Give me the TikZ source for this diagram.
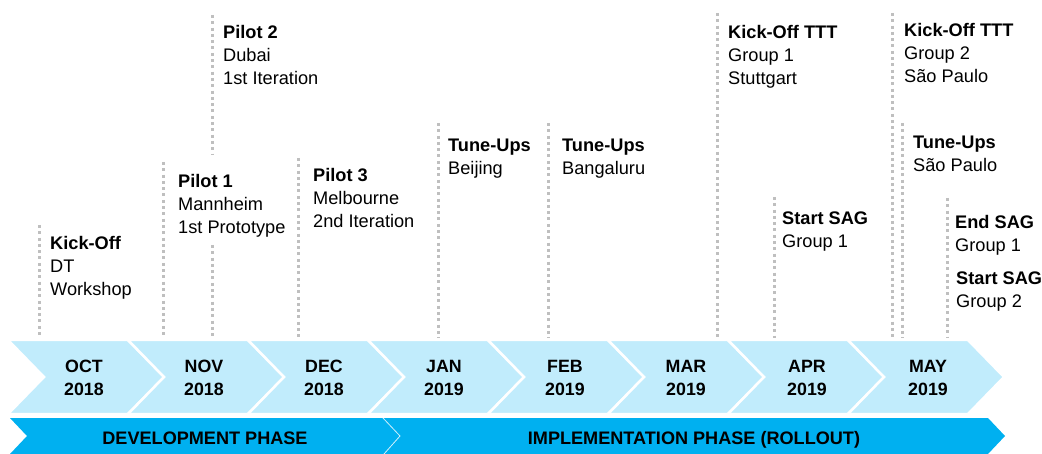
\documentclass[tikz,border=0pt]{standalone}
\usepackage{fontspec}
\setmainfont{Liberation Sans}
\definecolor{lightband}{HTML}{C1ECFC}
\definecolor{darkband}{HTML}{00B0F0}
\definecolor{dotgray}{HTML}{BFBFBF}
\tikzset{
  month/.style={align=center, inner sep=0pt, font=\fontsize{17.8}{23}\selectfont\bfseries},
  evt/.style={align=left, anchor=north west, inner sep=0pt, font=\fontsize{18.2}{23}\selectfont},
  phase/.style={anchor=base, inner sep=0pt, font=\fontsize{18.1}{23}\selectfont\bfseries},
  dots/.style={draw=dotgray, line width=3pt, dash pattern=on 3pt off 3.3pt},
  chev/.style={fill=lightband, draw=white, line width=2.5pt, line join=miter},
}
\begin{document}
\begin{tikzpicture}[x=1pt,y=-1pt]
\useasboundingbox (0,0) rectangle (1042,454);
% chevron band
\foreach \k in {0,...,7}{
  \pgfmathsetmacro{\a}{8+120*\k}
  \path[chev] (\a,340) -- ({\a+120},340) -- ({\a+156},377) -- ({\a+120},414) -- (\a,414) -- ({\a+36},377) -- cycle;
}
% month labels
\node[month] (oct) at (84,378) {OCT\\2018};
\node[month] (nov) at (204,378) {NOV\\2018};
\node[month] (dec) at (324,378) {DEC\\2018};
\node[month] (jan) at (444,378) {JAN\\2019};
\node[month] (feb) at (565,378) {FEB\\2019};
\node[month] (mar) at (686,378) {MAR\\2019};
\node[month] (apr) at (807,378) {APR\\2019};
\node[month] (may) at (928,378) {MAY\\2019};
% phase band
\fill[darkband] (10,418) -- (988,418) -- (1005,436) -- (988,454) -- (10,454) -- (27,436) -- cycle;
\draw[white, opacity=0.8, line width=0.8pt] (383,418) -- (400,436) -- (384,454);
\node[phase] (dev) at (205,444) {DEVELOPMENT PHASE};
\node[phase] (impl) at (694,444) {IMPLEMENTATION PHASE (ROLLOUT)};
% dotted lines
\coordinate (t1) at (39,225);  \coordinate (b1) at (39,338);
\coordinate (t2) at (163,162); \coordinate (b2) at (163,338);
\coordinate (t3) at (212,15);  \coordinate (m3) at (212,155);
\coordinate (n3) at (212,245); \coordinate (b3) at (212,338);
\coordinate (t4) at (298,158); \coordinate (b4) at (298,340);
\coordinate (t5) at (438,123); \coordinate (b5) at (438,338);
\coordinate (t6) at (548,123); \coordinate (b6) at (548,338);
\coordinate (t7) at (717,13);  \coordinate (b7) at (717,338);
\coordinate (t8) at (774,197); \coordinate (b8) at (774,338);
\coordinate (t9) at (892,13);  \coordinate (b9) at (892,338);
\coordinate (t10) at (902,123); \coordinate (b10) at (902,338);
\coordinate (t11) at (947,198); \coordinate (b11) at (947,338);
\foreach \t/\b in {t1/b1,t2/b2,t3/m3,n3/b3,t4/b4,t5/b5,t6/b6,t7/b7,t8/b8,t9/b9,t10/b10,t11/b11}
  \draw[dots] (\t) -- (\b);
% event texts
\node[evt] (e1) at (50,236.5) {\textbf{Kick-Off}\\DT\\Workshop};
\node[evt] (e2) at (178,174.5) {\textbf{Pilot 1}\\Mannheim\\1st Prototype};
\node[evt] (e3) at (223,25.5) {\textbf{Pilot 2}\\Dubai\\1st Iteration};
\node[evt] (e4) at (313,168.5) {\textbf{Pilot 3}\\Melbourne\\2nd Iteration};
\node[evt] (e5) at (448,138.5) {\textbf{Tune-Ups}\\Beijing};
\node[evt] (e6) at (562,138.5) {\textbf{Tune-Ups}\\Bangaluru};
\node[evt] (e7) at (728,25.5) {\textbf{Kick-Off TTT}\\Group 1\\Stuttgart};
\node[evt] (e8) at (782,211.5) {\textbf{Start SAG}\\Group 1};
\node[evt] (e9) at (904,23.5) {\textbf{Kick-Off TTT}\\Group 2\\São Paulo};
\node[evt] (e10) at (913,135.5) {\textbf{Tune-Ups}\\São Paulo};
\node[evt] (e11) at (955,215.5) {\textbf{End SAG}\\Group 1};
\node[evt] (e12) at (956,271.5) {\textbf{Start SAG}\\Group 2};
\end{tikzpicture}
\end{document}
